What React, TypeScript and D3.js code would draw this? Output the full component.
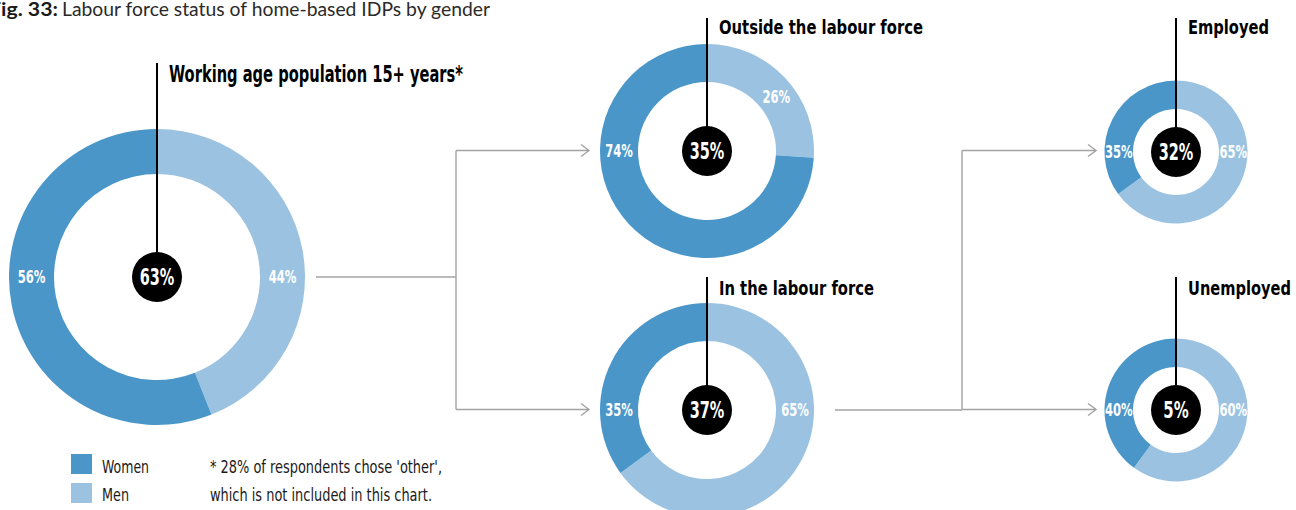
import React from "react";
import * as d3 from "d3";

const figLabel = "Fig. 33:";
const figTitle = "Labour force status of home-based IDPs by gender";
const donutTitles = [
  "Working age population 15+ years*",
  "Outside the labour force",
  "In the labour force",
  "Employed",
  "Unemployed",
];
const totalShares = [63, 35, 37, 32, 5];
const womenShares = [56, 74, 35, 35, 40];
const menShares = [44, 26, 65, 65, 60];
const genders = ["Women", "Men"];
const footnoteLines = [
  "* 28% of respondents chose 'other',",
  "which is not included in this chart.",
];

const DARK = "#4a96c9";
const LIGHT = "#9bc3e1";
const GREY = "#a3a3a3";
const COND = "'Liberation Sans Narrow', 'DejaVu Sans Condensed', 'Roboto', 'Liberation Sans', sans-serif";

// layout for each donut (index-aligned with data arrays)
const layout = [
  { cx: 157, cy: 277, ro: 148, ri: 103, lineTop: 63, titleY: 82, titleSize: 23, titleW: 294, menAngle: 90 },
  { cx: 707, cy: 151, ro: 107, ri: 69, lineTop: 18, titleY: 34, titleSize: 19.5, titleW: 204, menAngle: 52 },
  { cx: 707, cy: 410, ro: 107, ri: 69, lineTop: 277, titleY: 295, titleSize: 19.5, titleW: 155, menAngle: 90 },
  { cx: 1176, cy: 152, ro: 71.5, ri: 43, lineTop: 18, titleY: 34, titleSize: 19.5, titleW: 81, menAngle: 90 },
  { cx: 1176, cy: 410, ro: 71.5, ri: 43, lineTop: 277, titleY: 295, titleSize: 19.5, titleW: 103, menAngle: 90 },
];

function numWidth(s: string, size: number) {
  let w = 0;
  for (const ch of s) w += ch === "%" ? 0.72 * size : 0.41 * size;
  return w;
}

function Donut({ i }: { i: number }) {
  const L = layout[i];
  const pie = d3
    .pie<{ g: string; v: number }>()
    .sort(null)
    .value((d) => d.v);
  const arcs = pie([
    { g: "Men", v: menShares[i] },
    { g: "Women", v: womenShares[i] },
  ]);
  const arc = d3.arc<d3.PieArcDatum<{ g: string; v: number }>>().innerRadius(L.ri).outerRadius(L.ro);
  const rm = (L.ro + L.ri) / 2;
  const labelPos = (deg: number) => {
    const a = (deg * Math.PI) / 180;
    return [L.cx + rm * Math.sin(a), L.cy - rm * Math.cos(a)];
  };
  const [mx, my] = labelPos(L.menAngle);
  const [wx, wy] = labelPos(270);
  const lblSize = 18;
  const menTxt = `${menShares[i]}%`;
  const womenTxt = `${womenShares[i]}%`;
  const ctrTxt = `${totalShares[i]}%`;
  const ctrSize = 22.5;
  return (
    <g>
      <g transform={`translate(${L.cx},${L.cy})`}>
        {arcs.map((a) => (
          <path key={a.data.g} d={arc(a) || ""} fill={a.data.g === "Men" ? LIGHT : DARK} />
        ))}
      </g>
      <line x1={L.cx} x2={L.cx} y1={L.lineTop} y2={L.cy} stroke="#000" strokeWidth={2} />
      <circle cx={L.cx} cy={L.cy} r={25} fill="#000" />
      <text
        x={L.cx}
        y={L.cy + ctrSize * 0.36}
        textAnchor="middle"
        fill="#fff"
        fontFamily={COND}
        fontWeight="bold"
        fontSize={ctrSize}
        textLength={numWidth(ctrTxt, ctrSize)}
        lengthAdjust="spacingAndGlyphs"
      >
        {ctrTxt}
      </text>
      <text
        x={mx}
        y={my + lblSize * 0.36}
        textAnchor="middle"
        fill="#fff"
        fontFamily={COND}
        fontWeight="bold"
        fontSize={lblSize}
        textLength={numWidth(menTxt, lblSize)}
        lengthAdjust="spacingAndGlyphs"
      >
        {menTxt}
      </text>
      <text
        x={wx}
        y={wy + lblSize * 0.36}
        textAnchor="middle"
        fill="#fff"
        fontFamily={COND}
        fontWeight="bold"
        fontSize={lblSize}
        textLength={numWidth(womenTxt, lblSize)}
        lengthAdjust="spacingAndGlyphs"
      >
        {womenTxt}
      </text>
      <text
        x={L.cx + 12}
        y={L.titleY}
        fill="#000"
        fontFamily={COND}
        fontWeight="bold"
        fontSize={L.titleSize}
        textLength={L.titleW}
        lengthAdjust="spacingAndGlyphs"
      >
        {donutTitles[i]}
      </text>
    </g>
  );
}

function Arrow({ x1, x2, y }: { x1: number; x2: number; y: number }) {
  return (
    <g stroke={GREY} strokeWidth={1.4} fill="none">
      <line x1={x1} x2={x2} y1={y} y2={y} />
      <path d={`M${x2 - 8},${y - 6} L${x2},${y} L${x2 - 8},${y + 6}`} />
    </g>
  );
}

export default function App() {
  const legendText = [{ w: 47 }, { w: 27 }];
  return (
    <svg
      width={1296}
      height={510}
      style={{ position: "absolute", left: 0, top: 0, background: "#fff" }}
    >
      <text
        x={-11}
        y={16}
        fontFamily="Lato, 'Open Sans', sans-serif"
        fontWeight="bold"
        fontSize={19.5}
        fill="#1a1a1a"
        textLength={69}
        lengthAdjust="spacingAndGlyphs"
      >
        {figLabel}
      </text>
      <text
        x={62}
        y={16}
        fontFamily="Lato, 'Open Sans', sans-serif"
        fontSize={19.5}
        fill="#2a2a2a"
        textLength={428}
        lengthAdjust="spacingAndGlyphs"
      >
        {figTitle}
      </text>

      {/* connectors */}
      <g stroke={GREY} strokeWidth={1.4} fill="none">
        <line x1={316} x2={456} y1={277} y2={277} />
        <line x1={456} x2={456} y1={150.5} y2={409.5} />
        <line x1={835} x2={962} y1={410} y2={410} />
        <line x1={962} x2={962} y1={150.5} y2={409.5} />
      </g>
      <Arrow x1={456} x2={589} y={150.5} />
      <Arrow x1={456} x2={589} y={409.5} />
      <Arrow x1={962} x2={1096} y={150.5} />
      <Arrow x1={962} x2={1096} y={409.5} />

      {layout.map((_, i) => (
        <Donut key={i} i={i} />
      ))}

      {/* legend */}
      {genders.map((g, k) => (
        <g key={g}>
          <rect x={71} y={454 + k * 29} width={21} height={20} fill={g === "Women" ? DARK : LIGHT} />
          <text
            x={102}
            y={473 + k * 28}
            fontFamily={COND}
            fontSize={17.5}
            fill="#1a1a1a"
            textLength={legendText[k].w}
            lengthAdjust="spacingAndGlyphs"
          >
            {g}
          </text>
        </g>
      ))}
      {footnoteLines.map((t, k) => (
        <text
          key={k}
          x={210}
          y={473 + k * 28}
          fontFamily={COND}
          fontSize={17.5}
          fill="#1a1a1a"
          textLength={k === 0 ? 232 : 222}
          lengthAdjust="spacingAndGlyphs"
        >
          {t}
        </text>
      ))}
    </svg>
  );
}
